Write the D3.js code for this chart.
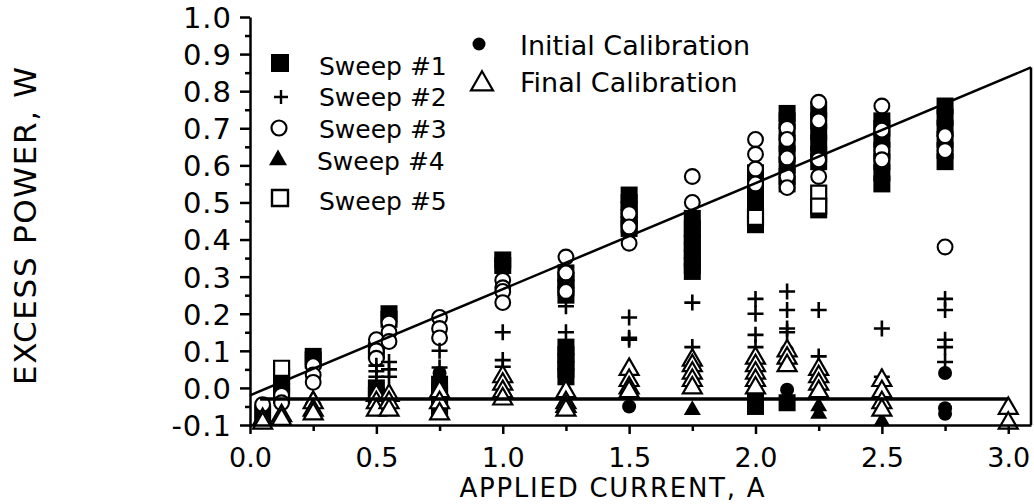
<!DOCTYPE html>
<html>
<head>
<meta charset="utf-8">
<script src="https://cdn.jsdelivr.net/npm/d3@7"></script>
<style>
  body { margin: 0; background: #fff; }
  svg { display: block; }
  text { font-family: "DejaVu Sans", "Liberation Sans", sans-serif; fill: #000; }
</style>
</head>
<body>
<svg id="chart" width="1034" height="504"></svg>
<script>
// Excess power vs applied current, five sweeps plus two calibrations.
// Each entry: [applied current (A), excess power (W)]
const sweep1 = [
  [0.05, -0.07],
  [0.125, 0.03], [0.125, 0.01], [0.125, -0.01], [0.125, -0.02],
  [0.25, 0.085], [0.25, 0.075],
  [0.5, 0.1], [0.5, 0.0], [0.5, -0.02],
  [0.55, 0.2], [0.55, 0.185],
  [0.75, 0.01], [0.75, -0.01], [0.75, -0.02], [0.75, -0.05], [0.75, -0.06],
  [1.0, 0.345], [1.0, 0.33],
  [1.25, 0.31], [1.25, 0.29], [1.25, 0.27], [1.25, 0.25],
  [1.25, 0.11], [1.25, 0.09], [1.25, 0.07], [1.25, 0.05], [1.25, 0.03],
  [1.5, 0.52], [1.5, 0.5], [1.5, 0.48], [1.5, 0.46], [1.5, 0.44], [1.5, 0.43],
  [1.75, 0.457], [1.75, 0.43], [1.75, 0.41], [1.75, 0.39], [1.75, 0.37], [1.75, 0.35], [1.75, 0.33], [1.75, 0.314],
  [2.0, 0.58], [2.0, 0.55], [2.0, 0.52], [2.0, 0.49], [2.0, 0.46], [2.0, 0.44], [2.0, -0.03], [2.0, -0.05],
  [2.125, 0.74], [2.125, 0.72], [2.125, 0.69], [2.125, 0.66], [2.125, 0.63], [2.125, 0.6], [2.125, 0.57], [2.125, 0.55], [2.125, -0.04],
  [2.25, 0.75], [2.25, 0.72], [2.25, 0.69], [2.25, 0.66], [2.25, 0.63], [2.25, 0.61], [2.25, 0.48],
  [2.5, 0.72], [2.5, 0.7], [2.5, 0.67], [2.5, 0.64], [2.5, 0.61], [2.5, 0.58], [2.5, 0.55],
  [2.75, 0.76], [2.75, 0.73], [2.75, 0.7], [2.75, 0.67], [2.75, 0.64], [2.75, 0.61]
];
const sweep2 = [
  [0.5, 0.06], [0.5, 0.045], [0.5, 0.03],
  [0.55, 0.07], [0.55, 0.05], [0.55, 0.03],
  [0.75, 0.1], [0.75, 0.055],
  [1.0, 0.15], [1.0, 0.075], [1.0, 0.057],
  [1.25, 0.22], [1.25, 0.15],
  [1.5, 0.19], [1.5, 0.135], [1.5, 0.13],
  [1.75, 0.23], [1.75, 0.11],
  [2.0, 0.24], [2.0, 0.2], [2.0, 0.143], [2.0, 0.11],
  [2.125, 0.26], [2.125, 0.21], [2.125, 0.16], [2.125, 0.15],
  [2.25, 0.21], [2.25, 0.085],
  [2.5, 0.16], [2.5, 0.03],
  [2.75, 0.24], [2.75, 0.21], [2.75, 0.13], [2.75, 0.11], [2.75, 0.07]
];
const sweep3 = [
  [0.05, -0.045],
  [0.125, -0.02], [0.125, -0.04],
  [0.25, 0.06], [0.25, 0.035], [0.25, 0.015],
  [0.5, 0.13], [0.5, 0.1], [0.5, 0.08],
  [0.55, 0.175], [0.55, 0.15], [0.55, 0.125],
  [0.75, 0.19], [0.75, 0.16], [0.75, 0.135],
  [1.0, 0.29], [1.0, 0.27], [1.0, 0.26], [1.0, 0.23],
  [1.25, 0.353], [1.25, 0.31], [1.25, 0.26],
  [1.5, 0.47], [1.5, 0.434], [1.5, 0.39],
  [1.75, 0.57], [1.75, 0.5],
  [2.0, 0.67], [2.0, 0.63], [2.0, 0.59], [2.0, 0.55],
  [2.125, 0.7], [2.125, 0.67], [2.125, 0.62], [2.125, 0.57], [2.125, 0.54],
  [2.25, 0.77], [2.25, 0.72], [2.25, 0.615], [2.25, 0.57],
  [2.5, 0.76], [2.5, 0.695], [2.5, 0.64], [2.5, 0.615],
  [2.75, 0.68], [2.75, 0.64], [2.75, 0.38]
];
const sweep4 = [
  [0.25, -0.03],
  [1.75, -0.06],
  [2.25, -0.05], [2.25, -0.07],
  [2.5, -0.09]
];
const sweep5 = [
  [0.125, 0.053],
  [2.0, 0.46],
  [2.25, 0.525], [2.25, 0.49]
];
const initialCal = [
  [0.75, 0.04],
  [1.5, -0.05],
  [2.125, 0.1], [2.125, -0.005],
  [2.75, 0.04], [2.75, -0.055], [2.75, -0.07]
];
const finalCal = [
  [0.05, -0.085], [0.05, -0.095],
  [0.125, -0.075], [0.125, -0.085],
  [0.25, -0.04], [0.25, -0.06], [0.25, -0.07],
  [0.5, -0.02], [0.5, -0.04], [0.5, -0.06],
  [0.55, -0.02], [0.55, -0.04], [0.55, -0.06],
  [0.75, -0.01], [0.75, -0.04], [0.75, -0.07],
  [1.0, 0.03], [1.0, 0.01], [1.0, -0.01], [1.0, -0.03],
  [1.25, -0.01], [1.25, -0.04], [1.25, -0.05], [1.25, -0.06],
  [1.5, 0.05], [1.5, 0.02], [1.5, 0.0], [1.5, -0.01],
  [1.75, 0.075], [1.75, 0.06], [1.75, 0.04], [1.75, 0.02], [1.75, 0.0],
  [2.0, 0.08], [2.0, 0.06], [2.0, 0.04], [2.0, 0.02], [2.0, 0.0],
  [2.125, 0.1], [2.125, 0.08], [2.125, 0.06],
  [2.25, 0.05], [2.25, 0.03], [2.25, 0.01], [2.25, -0.01],
  [2.5, 0.02], [2.5, -0.01], [2.5, -0.04], [2.5, -0.06],
  [3.0, -0.055], [3.0, -0.095]
];
// Least-squares trend line and calibration baseline
const fitLine = [[0, -0.02], [3.09, 0.864]];
const baseline = [[0.04, -0.03], [3.0, -0.03]];

// Axis ticks and labels
const xTicks = [0, 0.5, 1.0, 1.5, 2.0, 2.5, 3.0];
const xTickLabels = ["0.0", "0.5", "1.0", "1.5", "2.0", "2.5", "3.0"];
const xMinorTicks = [0.25, 0.75, 1.25, 1.75, 2.25, 2.75];
const yTicks = [-0.1, 0, 0.1, 0.2, 0.3, 0.4, 0.5, 0.6, 0.7, 0.8, 0.9, 1.0];
const yTickLabels = ["-0.1", "0.0", "0.1", "0.2", "0.3", "0.4", "0.5", "0.6", "0.7", "0.8", "0.9", "1.0"];
const yMinorTicks = [-0.05, 0.05, 0.15, 0.25, 0.35, 0.45, 0.55, 0.65, 0.75, 0.85, 0.95];

const svg = d3.select("#chart");
const x = d3.scaleLinear().domain([0, 3.09]).range([250, 1031]);
const y = d3.scaleLinear().domain([-0.1, 1.0]).range([425, 17]);

// Marker shapes
const sqPath = s => `M${-s/2},${-s/2}h${s}v${s}h${-s}Z`;
const plusPath = s => `M${-s/2},0H${s/2}M0,${-s/2}V${s/2}`;
const triPath = s => {
  const h = s * Math.sqrt(3) / 2;
  return `M0,${-h*2/3}L${s/2},${h/3}L${-s/2},${h/3}Z`;
};

const marks = svg.append("g");
function drawSeries(data, draw) {
  marks.append("g").selectAll("path").data(data).join("path")
    .attr("transform", d => `translate(${x(d[0])},${y(d[1])})`)
    .call(draw);
}
// Sweep #1: filled squares
drawSeries(sweep1, s => s.attr("d", sqPath(17)).attr("fill", "#000"));
// Sweep #5: open squares
drawSeries(sweep5, s => s.attr("d", sqPath(15)).attr("fill", "#fff").attr("stroke", "#000").attr("stroke-width", 2.2));
// Sweep #3: open circles
drawSeries(sweep3, s => s.attr("d", d3.symbol(d3.symbolCircle, Math.PI * 7.4 * 7.4)()).attr("fill", "#fff").attr("stroke", "#000").attr("stroke-width", 2.1));
// Sweep #2: plus signs
drawSeries(sweep2, s => s.attr("d", plusPath(16)).attr("fill", "none").attr("stroke", "#000").attr("stroke-width", 2.6));
// Sweep #4: filled triangles
drawSeries(sweep4, s => s.attr("d", triPath(17)).attr("fill", "#000"));
// Initial calibration: filled dots
drawSeries(initialCal, s => s.attr("d", d3.symbol(d3.symbolCircle, Math.PI * 7 * 7)()).attr("fill", "#000"));
// Final calibration: open triangles
drawSeries(finalCal, s => s.attr("d", triPath(19)).attr("fill", "#fff").attr("stroke", "#000").attr("stroke-width", 2.2).attr("stroke-linejoin", "miter"));

// Lines
const line = d3.line().x(d => x(d[0])).y(d => y(d[1]));
svg.append("path").datum(fitLine).attr("d", line).attr("fill", "none").attr("stroke", "#000").attr("stroke-width", 2.5);
svg.append("path").datum(baseline).attr("d", line).attr("fill", "none").attr("stroke", "#000").attr("stroke-width", 3.5);

// Axes
const axisG = svg.append("g");
const yAxis = d3.axisLeft(y).tickValues(yTicks).tickSize(10).tickSizeOuter(0).tickPadding(8)
  .tickFormat((d, i) => yTickLabels[i]);
const gy = axisG.append("g").attr("transform", `translate(${x(0)},0)`).call(yAxis);
const gyMinor = axisG.append("g").attr("transform", `translate(${x(0)},0)`)
  .call(d3.axisLeft(y).tickValues(yMinorTicks).tickSize(5).tickFormat(""));
gyMinor.select(".domain").remove();

const xAxis = d3.axisBottom(x).tickValues(xTicks).tickSize(9).tickSizeOuter(0).tickPadding(14)
  .tickFormat((d, i) => xTickLabels[i]);
const gx = axisG.append("g").attr("transform", `translate(0,${y(-0.1)})`).call(xAxis);
const gxMinor = axisG.append("g").attr("transform", `translate(0,${y(-0.1)})`)
  .call(d3.axisBottom(x).tickValues(xMinorTicks).tickSize(6).tickFormat(""));
gxMinor.select(".domain").remove();

axisG.selectAll(".domain, .tick line").attr("stroke", "#000").attr("stroke-width", 2.5);
gy.selectAll("text").style("font-size", "29px").style("letter-spacing", "1px").attr("dy", "0.36em");
gx.selectAll("text").style("font-size", "27px");

// Right frame edge
svg.append("line")
  .attr("x1", x(3.09)).attr("x2", x(3.09))
  .attr("y1", y(fitLine[1][1])).attr("y2", y(-0.1))
  .attr("stroke", "#000").attr("stroke-width", 2.5);

// Axis titles
svg.append("text")
  .attr("transform", `translate(36,226) rotate(-90)`)
  .attr("text-anchor", "middle")
  .attr("textLength", 318)
  .attr("lengthAdjust", "spacing")
  .style("font-size", "31px")
  .text("EXCESS POWER,  W");
svg.append("text")
  .attr("x", 612).attr("y", 497)
  .attr("text-anchor", "middle")
  .attr("textLength", 305)
  .attr("lengthAdjust", "spacing")
  .style("font-size", "26px")
  .text("APPLIED CURRENT, A");

// Legend
const legend = svg.append("g");
const legendItems = [
  { label: "Sweep #1", mx: 280, my: 63, tx: 319, ty: 75, kind: "fsq" },
  { label: "Sweep #2", mx: 281, my: 97, tx: 319, ty: 106, kind: "plus" },
  { label: "Sweep #3", mx: 279, my: 128, tx: 319, ty: 138, kind: "circ" },
  { label: "Sweep #4", mx: 278, my: 160, tx: 317, ty: 170, kind: "ftri" },
  { label: "Sweep #5", mx: 280, my: 198, tx: 319, ty: 210, kind: "osq" },
  { label: "Initial Calibration", mx: 479, my: 44, tx: 520, ty: 55, kind: "dot" },
  { label: "Final Calibration", mx: 482, my: 84, tx: 520, ty: 92, kind: "otri" }
];
legendItems.forEach(it => {
  const p = legend.append("path").attr("transform", `translate(${it.mx},${it.my})`);
  if (it.kind === "fsq") p.attr("d", sqPath(18)).attr("fill", "#000");
  if (it.kind === "plus") p.attr("d", plusPath(14)).attr("fill", "none").attr("stroke", "#000").attr("stroke-width", 2.4);
  if (it.kind === "circ") p.attr("d", d3.symbol(d3.symbolCircle, Math.PI * 7.5 * 7.5)()).attr("fill", "#fff").attr("stroke", "#000").attr("stroke-width", 2.2);
  if (it.kind === "ftri") p.attr("d", triPath(18)).attr("fill", "#000");
  if (it.kind === "osq") p.attr("d", sqPath(16)).attr("fill", "#fff").attr("stroke", "#000").attr("stroke-width", 2.4);
  if (it.kind === "dot") p.attr("d", d3.symbol(d3.symbolCircle, Math.PI * 6.5 * 6.5)()).attr("fill", "#000");
  if (it.kind === "otri") p.attr("d", triPath(22)).attr("fill", "#fff").attr("stroke", "#000").attr("stroke-width", 2.2);
  legend.append("text").attr("x", it.tx).attr("y", it.ty)
    .style("font-size", it.kind === "dot" || it.kind === "otri" ? "27px" : "25px")
    .text(it.label);
});
</script>
</body>
</html>
